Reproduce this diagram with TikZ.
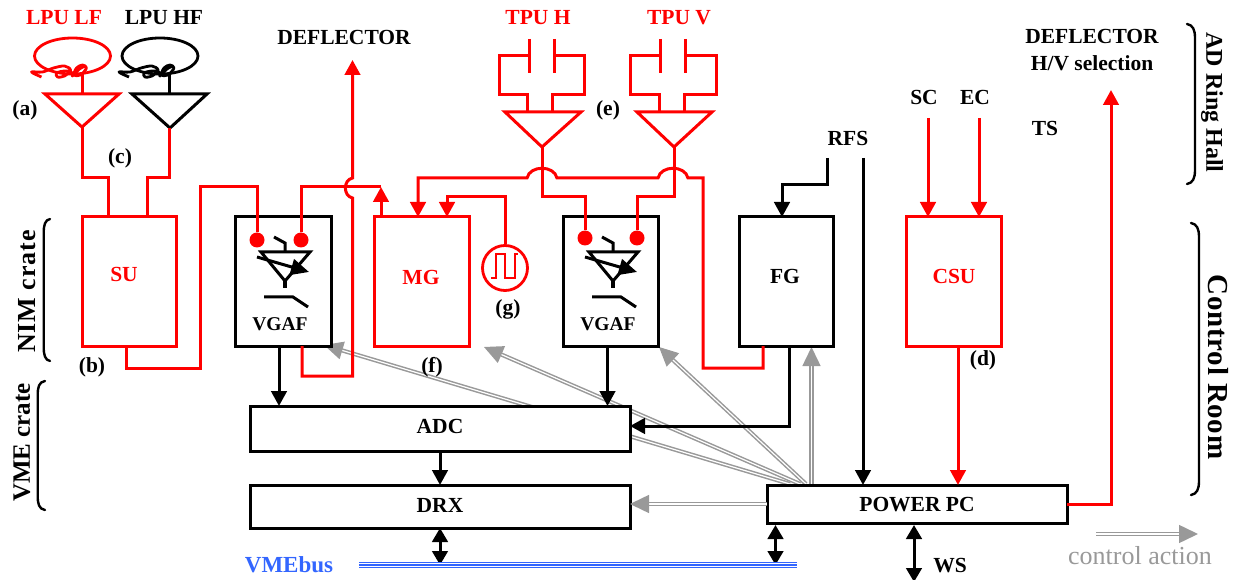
\documentclass[tikz,border=0pt]{standalone}
\usepackage{fontspec}
\setmainfont{Liberation Serif}
\usetikzlibrary{arrows.meta,calc}
\definecolor{ctrl}{HTML}{999999}
\definecolor{busblue}{HTML}{3366FF}
\newcommand{\lblfont}{\fontsize{21.5}{24}\selectfont\bfseries}
\tikzset{
  x=1pt,y=-1pt,
  tipa/.tip={Triangle[length=15pt,width=15.5pt]},
  box/.style={draw=black,line width=3pt,fill=white,inner sep=0,outer sep=0,line join=miter},
  redbox/.style={draw=red,line width=3pt,fill=white,inner sep=0,outer sep=0},
  lbl/.style={inner sep=0,outer sep=0,font=\lblfont,align=center},
  rlbl/.style={lbl,text=red},
  wire/.style={draw=black,line width=3pt,line join=miter},
  rwire/.style={draw=red,line width=3pt,line join=miter},
  ampline/.style={line width=3pt,line join=miter},
  ctrlarrow/.style={draw=ctrl,line width=1.5pt,double=white,double distance=1.2pt,-{Triangle[length=19pt,width=18pt,fill=ctrl]}},
  brk/.style={draw=black,line width=2.4pt,line cap=round},
  coil/.pic={
    \draw[line width=2.8pt] (0,0) ellipse (38 and 18);
    \draw[line width=2.8pt,line join=round] plot[smooth,tension=.55] coordinates
      {(-31,21) (-41,16) (-30,16) (-19,12) (-8,10) (-2,14) (-8,20) (-15,21) (-16,17) (-8,15) (-1,16) (0,20) (4,12) (10,9) (14,12) (8,19) (2,19) (7,13) (13,10)};
    \draw[line width=2.8pt] (9.8,16) -- (9.8,38);
  },
  vgafsym/.pic={
    \draw[line width=3pt] (-11,-15) -- (0,-9) -- (0,0);
    \draw[line width=3pt] (-24,0) -- (25,0) -- (0,29) -- cycle;
    \draw[line width=4pt] (0,29) -- (0,36);
    \draw[line width=3pt,-{Triangle[length=18pt,width=16pt]}] (-28,5) -- (24,20);
    \draw[line width=3pt] (-21,45) -- (8,45) -- (23,55);
  }
}
\begin{document}
\begin{tikzpicture}
\useasboundingbox (0,0) rectangle (1235,580);
% free coordinates
\coordinate (ctrlO) at (790,484);
\coordinate (ctrlC) at (800,484);
\coordinate (ctrlD) at (806,484);
\coordinate (ctrlE) at (811.5,484);
\coordinate (ctrlVa) at (324,345);
\coordinate (ctrlMg) at (484,347);
\coordinate (ctrlVb) at (659,347);
\coordinate (ctrlFg) at (811.5,347);
\coordinate (legA) at (1096,534);
\coordinate (legB) at (1198,534);
\coordinate (busL) at (359,565);
\coordinate (busR) at (797,565);
\coordinate (wsEnd) at (914,582);
% control arrows below the boxes
\draw[ctrlarrow] (ctrlO) -- (ctrlVa);
\draw[ctrlarrow] (ctrlC) -- (ctrlMg);
\draw[ctrlarrow] (ctrlD) -- (ctrlVb);
\draw[ctrlarrow] (ctrlE) -- (ctrlFg);
% boxes
\node[redbox,minimum width=94,minimum height=129] (su) at (129,281.5) {};
\node[box,minimum width=96,minimum height=129] (va) at (283,281.5) {};
\node[redbox,minimum width=95,minimum height=129] (mg) at (421.5,281.5) {};
\node[box,minimum width=95,minimum height=129] (vb) at (610.5,281.5) {};
\node[box,minimum width=94,minimum height=129] (fg) at (786,281.5) {};
\node[redbox,minimum width=95,minimum height=129] (csu) at (953.5,281.5) {};
\node[box,minimum width=380,minimum height=45] (adc) at (440,428.5) {};
\node[box,minimum width=380,minimum height=43] (drx) at (440,506.5) {};
\node[box,minimum width=300,minimum height=38] (ppc) at (917,504) {};
\draw[ctrlarrow] (ppc.west) -- (drx.east |- ppc.west);
% labels
\node[rlbl] (tlf) at (64,18) {LPU LF};
\node[lbl] (thf) at (164,18) {LPU HF};
\node[lbl] (tdef) at (344,37) {DEFLECTOR};
\node[rlbl] (th) at (538,18) {TPU H};
\node[rlbl] (tv) at (679,18) {TPU V};
\node[lbl] (tdefs) at (1092,50) {DEFLECTOR\\[3pt]H/V selection};
\node[lbl] (tsc) at (924,97) {SC};
\node[lbl] (tec) at (975,97) {EC};
\node[lbl] (tts) at (1045,128) {TS};
\node[lbl] (trfs) at (848,138) {RFS};
\node[lbl] (ta) at (25,110) {(a)};
\node[lbl] (tb) at (92,367) {(b)};
\node[lbl] (tc) at (120,158) {(c)};
\node[lbl] (td) at (983,360) {(d)};
\node[lbl] (te) at (608,110) {(e)};
\node[lbl] (tf) at (432,367) {(f)};
\node[lbl] (tg) at (508,309) {(g)};
\node[rlbl] (tsu) at (124,274) {SU};
\node[rlbl] (tmg) at (421,277) {MG};
\node[rlbl] (tcsu) at (954,276) {CSU};
\node[lbl] (tfg) at (785,276) {FG};
\node[lbl,font=\fontsize{19.5}{22}\selectfont\bfseries] (tva) at (280,324) {VGAF};
\node[lbl,font=\fontsize{19.5}{22}\selectfont\bfseries] (tvb) at (608,324) {VGAF};
\node[lbl] (tadc) at (440,426) {ADC};
\node[lbl] (tdrx) at (440,505) {DRX};
\node[lbl] (tppc) at (917,505) {POWER PC};
\node[lbl,text=busblue,font=\fontsize{23}{25}\selectfont\bfseries] (tbus) at (289,565) {VMEbus};
\node[lbl] (tws) at (950,566) {WS};
\node[inner sep=0,text=ctrl,font=\fontsize{26}{28}\selectfont] (tleg) at (1140,556) {control action};
\node[lbl,rotate=90,font=\fontsize{26}{28}\selectfont\bfseries\addfontfeature{LetterSpace=3.5}] (tnim) at (27,291.5) {NIM crate};
\node[lbl,rotate=90,font=\fontsize{25}{28}\selectfont\bfseries] (tvme) at (22,442.5) {VME crate};
\node[lbl,rotate=-90,font=\fontsize{24}{26}\selectfont\bfseries] (tad) at (1212,102.5) {AD Ring Hall};
\node[lbl,rotate=-90,font=\fontsize{29}{32}\selectfont\bfseries\addfontfeature{LetterSpace=2.5}] (tcr) at (1218,367) {Control Room};
% brackets
\draw[brk] (50,219) .. controls (45,220) and (43.7,225) .. (43.7,233) -- (43.7,347) .. controls (43.7,355) and (45,360) .. (50,361);
\draw[brk] (45,381) .. controls (39,382) and (37.7,387) .. (37.7,395) -- (37.7,496) .. controls (37.7,504) and (39,509) .. (45,510);
\draw[brk] (1187,24) .. controls (1193,25) and (1195,30) .. (1195,38) -- (1195,170) .. controls (1195,178) and (1193,183) .. (1187,184);
\draw[brk] (1191,223) .. controls (1197,224) and (1199,229) .. (1199,237) -- (1199,481) .. controls (1199,489) and (1197,494) .. (1191,495);
% pickups
\pic[red] (coilA) at (72.5,56) {coil};
\pic[black] (coilB) at (160,56) {coil};
\draw[red,ampline] (45,94) -- (119,94) -- (82,127) -- cycle;
\draw[black,ampline] (132,94) -- (207,94) -- (170,128) -- cycle;
\coordinate (ampA) at (82,127);
\coordinate (ampB) at (169.5,128);
\draw[rwire] (ampA) -- (82,178) -- (108,178) -- (108,0 |- su.north);
\draw[rwire] (ampB) -- (169.5,178) -- (147,178) -- (147,0 |- su.north);
% VGAF symbols and dots
\pic[black] (sa) at (285,252) {vgafsym};
\pic[black] (sb) at (613,252) {vgafsym};
\node[circle,fill=red,minimum size=15,inner sep=0] (da) at (257,240) {};
\node[circle,fill=red,minimum size=15,inner sep=0] (db) at (301,240) {};
\node[circle,fill=red,minimum size=15,inner sep=0] (dc) at (585,238) {};
\node[circle,fill=red,minimum size=15,inner sep=0] (dd) at (637,238) {};
% red connections
\draw[rwire] (126,0 |- su.south) -- (126,368) -- (200,368) -- (200,187) -- (257,187) -- (da);
\draw[rwire] (db) -- (301,187) -- (381,187);
\draw[rwire,-tipa] (381,0 |- mg.north) -- (381,187);
\draw[rwire,-tipa] (302,0 |- va.south) -- (302,376) -- (352.5,376) -- (352.5,198)
  .. controls (343,196) and (343,180) .. (352.5,178) -- (352.5,60);
% TPU H
\draw[red,line width=3pt] (529.5,39) -- (529.5,73);
\draw[red,line width=3pt] (554.5,39) -- (554.5,73);
\draw[rwire] (529.5,56) -- (499,56) -- (499,95) -- (527,95) -- (527,112);
\draw[rwire] (554.5,56) -- (584,56) -- (584,95) -- (552,95) -- (552,112);
\draw[red,ampline] (505,112) -- (581,112) -- (542,147) -- cycle;
% TPU V
\draw[red,line width=3pt] (660,39) -- (660,73);
\draw[red,line width=3pt] (685,39) -- (685,73);
\draw[rwire] (660,56) -- (630,56) -- (630,95) -- (659,95) -- (659,112);
\draw[rwire] (685,56) -- (716,56) -- (716,95) -- (684,95) -- (684,112);
\draw[red,ampline] (637,112) -- (712,112) -- (674,147) -- cycle;
\coordinate (ampH) at (542,147);
\coordinate (ampV) at (674,147);
\draw[rwire] (ampH) -- (542,197) -- (585,197) -- (dc);
\draw[rwire] (ampV) -- (674,197) -- (637,197) -- (dd);
\draw[rwire,-tipa] (763,0 |- fg.south) -- (763,368) -- (703,368) -- (703,178) -- (688,178)
  .. controls (685,165) and (661,165) .. (658,178) -- (557,178)
  .. controls (554,165) and (530,165) .. (527,178) -- (418,178) -- (418,0 |- mg.north);
% pulse generator
\node[circle,draw=red,line width=2.8pt,minimum size=45,inner sep=0] (gen) at (505,268) {};
\draw[red,line width=2.6pt] (491,278) -- (496,278) -- (496,254) -- (505,254) -- (505,278) -- (515,278) -- (515,254) -- (518,254);
\draw[rwire,-tipa] (gen.north) -- (505,197) -- (447,197) -- (447,0 |- mg.north);
% CSU and deflector selection
\draw[rwire,-tipa] (928,118) -- (928,0 |- csu.north);
\draw[rwire,-tipa] (979,118) -- (979,0 |- csu.north);
\draw[rwire,-tipa] (958,0 |- csu.south) -- (958,0 |- ppc.north);
\draw[rwire,-tipa] (ppc.east) -- (1111,0 |- ppc.east) -- (1111,90);
% black connections
\draw[wire,-tipa] (827,158) -- (827,185) -- (782,185) -- (782,0 |- fg.north);
\draw[wire,-tipa] (863,158) -- (863,0 |- ppc.north);
\draw[wire,-tipa] (279,0 |- va.south) -- (279,0 |- adc.north);
\draw[wire,-tipa] (607.5,0 |- vb.south) -- (607.5,0 |- adc.north);
\draw[wire,-tipa] (789.5,0 |- fg.south) -- (789.5,426) -- (adc.east |- 0,426);
\draw[wire,-tipa] (adc.south) -- (drx.north);
\draw[wire,{Triangle[length=14pt,width=15.5pt]}-{Triangle[length=14pt,width=15.5pt]}] (drx.south) -- (drx.south |- busL);
\draw[wire,{Triangle[length=14pt,width=15.5pt]}-{Triangle[length=14pt,width=15.5pt]}] (775.5,0 |- ppc.south) ++(0,2) -- (775.5,0 |- busL);
\draw[wire,{Triangle[length=14pt,width=15.5pt]}-{Triangle[length=14pt,width=15.5pt]}] (914,0 |- ppc.south) ++(0,2) -- (wsEnd);
% VME bus
\draw[busblue,line width=6.6pt] (busL) -- (busR);
\draw[white,line width=4.6pt] (busL) -- (busR);
\draw[busblue,line width=2.8pt] (busL) -- (busR);
% legend
\draw[ctrlarrow] (legA) -- (legB);
\end{tikzpicture}
\end{document}
